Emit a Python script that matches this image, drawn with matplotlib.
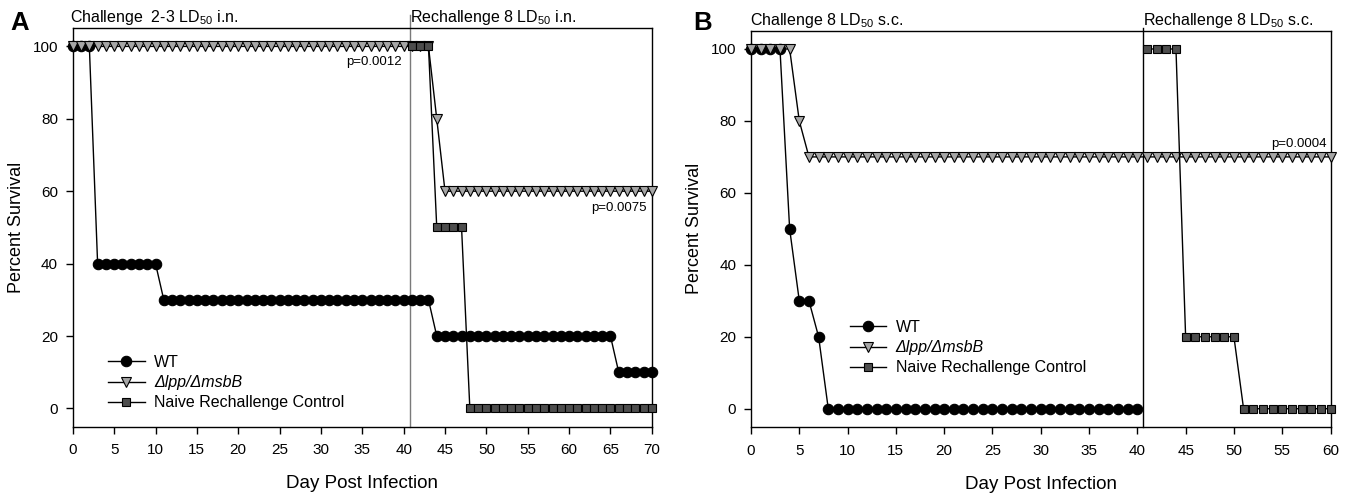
import matplotlib
matplotlib.use("Agg")
import matplotlib.pyplot as plt
from matplotlib.transforms import blended_transform_factory

plt.rcParams['font.family'] = ['Liberation Sans', 'DejaVu Sans']
plt.rcParams['mathtext.fontset'] = 'custom'
plt.rcParams['mathtext.rm'] = 'Liberation Sans'
plt.rcParams['mathtext.it'] = 'Liberation Sans:italic'

# ---------------- Panel A data ----------------
a_wt_days = list(range(0, 71))
a_wt_surv = [100, 100, 100,
             40, 40, 40, 40, 40, 40, 40, 40,
             30, 30, 30, 30, 30, 30, 30, 30, 30, 30, 30, 30, 30, 30, 30, 30, 30,
             30, 30, 30, 30, 30, 30, 30, 30, 30, 30, 30, 30, 30, 30, 30, 30,
             20, 20, 20, 20, 20, 20, 20, 20, 20, 20, 20, 20, 20, 20, 20, 20, 20,
             20, 20, 20, 20, 20,
             10, 10, 10, 10, 10]
a_mut_days = list(range(0, 71))
a_mut_surv = [100, 100, 100, 100, 100, 100, 100, 100, 100, 100, 100, 100, 100, 100,
              100, 100, 100, 100, 100, 100, 100, 100, 100, 100, 100, 100, 100, 100,
              100, 100, 100, 100, 100, 100, 100, 100, 100, 100, 100, 100, 100, 100,
              100, 100,
              80,
              60, 60, 60, 60, 60, 60, 60, 60, 60, 60, 60, 60, 60, 60, 60, 60, 60,
              60, 60, 60, 60, 60, 60, 60, 60, 60]
a_naive_days = list(range(41, 71))
a_naive_surv = [100, 100, 100,
                50, 50, 50, 50,
                0, 0, 0, 0, 0, 0, 0, 0, 0, 0, 0, 0, 0, 0, 0, 0, 0, 0, 0, 0, 0, 0, 0]
a_rechallenge_day = 40.8
a_xticks = list(range(0, 71, 5))

# ---------------- Panel B data ----------------
b_wt_days = list(range(0, 41))
b_wt_surv = [100, 100, 100, 100, 50, 30, 30, 20,
             0, 0, 0, 0, 0, 0, 0, 0, 0, 0, 0, 0, 0, 0, 0, 0, 0, 0, 0, 0, 0, 0,
             0, 0, 0, 0, 0, 0, 0, 0, 0, 0, 0]
b_mut_days = list(range(0, 61))
b_mut_surv = [100, 100, 100, 100, 100, 80,
              70, 70, 70, 70, 70, 70, 70, 70, 70, 70, 70, 70, 70, 70, 70, 70, 70,
              70, 70, 70, 70, 70, 70, 70, 70, 70, 70, 70, 70, 70, 70, 70, 70, 70,
              70, 70, 70, 70, 70, 70, 70, 70, 70, 70, 70, 70, 70, 70, 70, 70, 70,
              70, 70, 70, 70]
b_naive_days = list(range(41, 61))
b_naive_surv = [100, 100, 100, 100,
                20, 20, 20, 20, 20, 20,
                0, 0, 0, 0, 0, 0, 0, 0, 0, 0]
b_rechallenge_day = 40.6
b_xticks = list(range(0, 61, 5))

yticks = [0, 20, 40, 60, 80, 100]
labels = ['WT', 'Δlpp/ΔmsbB', 'Naive Rechallenge Control']

W, H = 1350, 493
fig = plt.figure(figsize=(W / 100, H / 100), dpi=100)
axA = fig.add_axes([72.8 / W, 1 - 426.5 / H, (651.8 - 72.8) / W, (426.5 - 28.3) / H])
axB = fig.add_axes([751 / W, 1 - 426.7 / H, (1330.5 - 751) / W, (426.7 - 31) / H])

wt_style = dict(color='black', lw=1.0, marker='o', ms=7.5, mfc='black', mec='black',
                mew=0.8, clip_on=False, zorder=3)
mut_style = dict(color='black', lw=1.0, marker='v', ms=6.5, mfc='#a6a6a6', mec='black',
                 mew=0.8, clip_on=False, zorder=4)
naive_style = dict(color='black', lw=1.0, marker='s', ms=6.0, mfc='#4d4d4d', mec='black',
                   mew=0.8, clip_on=False, zorder=5)


def style_axes(ax, xmax, xticks):
    ax.set_xlim(0, xmax)
    ax.set_ylim(-5, 105)
    ax.set_xticks(xticks)
    ax.set_yticks(yticks)
    ax.tick_params(direction='out', length=4.7, width=1.0, labelsize=11, pad=6,
                   top=False, right=False)
    ax.tick_params(axis='x', pad=7.5)
    for s in ax.spines.values():
        s.set_linewidth(1.0)
    ax.set_xlabel('Day Post Infection', fontsize=13.5, labelpad=13)
    ax.set_ylabel('Percent Survival', fontsize=13, labelpad=5.5)


leg_kw = dict(loc='upper left', frameon=False, fontsize=11.5, handlelength=2.3,
              handletextpad=0.58, labelspacing=0.33, borderpad=0, borderaxespad=0)

# Panel A
la1, = axA.plot(a_wt_days, a_wt_surv, **wt_style)
la2, = axA.plot(a_mut_days, a_mut_surv, **mut_style)
la3, = axA.plot(a_naive_days, a_naive_surv, **naive_style)
axA.plot([a_rechallenge_day, a_rechallenge_day], [-5, 108.8], color='#7a7a7a', lw=1.0,
         clip_on=False, zorder=2)
style_axes(axA, 70, a_xticks)
legA = axA.legend([la1, la2, la3], labels, bbox_to_anchor=(0.061, 0.18), **leg_kw)
legA.get_texts()[1].set_fontstyle('italic')
axA.text(39.8, 95.8, 'p=0.0012', ha='right', va='center', fontsize=9.5)
axA.text(69.4, 55.4, 'p=0.0075', ha='right', va='center', fontsize=9.5)
tA = blended_transform_factory(axA.transData, axA.transAxes)
axA.annotate('Challenge  2-3 LD$_{\\mathregular{50}}$ i.n.', xy=(0, 1), xycoords=tA,
             xytext=(-2, 4.5), textcoords='offset points', va='baseline', ha='left',
             fontsize=11.5, annotation_clip=False)
axA.annotate('Rechallenge 8 LD$_{\\mathregular{50}}$ i.n.', xy=(a_rechallenge_day, 1), xycoords=tA,
             xytext=(0, 4.5), textcoords='offset points', va='baseline', ha='left',
             fontsize=11.5, annotation_clip=False)

# Panel B
lb1, = axB.plot(b_wt_days, b_wt_surv, **wt_style)
lb2, = axB.plot(b_mut_days, b_mut_surv, **mut_style)
lb3, = axB.plot(b_naive_days, b_naive_surv, **naive_style)
axB.plot([b_rechallenge_day, b_rechallenge_day], [-5, 105.8], color='black', lw=1.0,
         clip_on=False, zorder=2)
style_axes(axB, 60, b_xticks)
legB = axB.legend([lb1, lb2, lb3], labels, bbox_to_anchor=(0.17, 0.27), **leg_kw)
legB.get_texts()[1].set_fontstyle('italic')
axB.text(59.6, 73.6, 'p=0.0004', ha='right', va='center', fontsize=9.5)
tB = blended_transform_factory(axB.transData, axB.transAxes)
axB.annotate('Challenge 8 LD$_{\\mathregular{50}}$ s.c.', xy=(0, 1), xycoords=tB,
             xytext=(-0.5, 4.5), textcoords='offset points', va='baseline', ha='left',
             fontsize=11.5, annotation_clip=False)
axB.annotate('Rechallenge 8 LD$_{\\mathregular{50}}$ s.c.', xy=(b_rechallenge_day, 1), xycoords=tB,
             xytext=(0, 4.5), textcoords='offset points', va='baseline', ha='left',
             fontsize=11.5, annotation_clip=False)

fig.text(10 / W, 1 - 30 / H, 'A', fontsize=18.5, fontweight='bold', va='baseline', ha='left')
fig.text(693 / W, 1 - 30 / H, 'B', fontsize=18.5, fontweight='bold', va='baseline', ha='left')

fig.savefig('out.png', dpi=100)
